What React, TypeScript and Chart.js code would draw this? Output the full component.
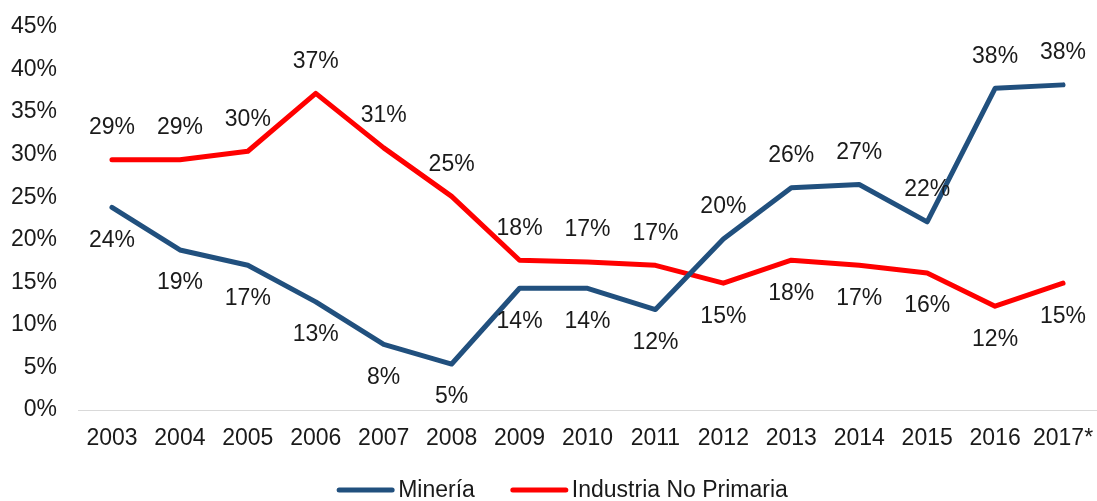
import React, { useEffect, useRef } from "react";
import { Chart, registerables } from "chart.js";

Chart.register(...registerables);

const categories = ["2003","2004","2005","2006","2007","2008","2009","2010","2011","2012","2013","2014","2015","2016","2017*"];
const mineria = [23.8, 18.8, 17.0, 12.7, 7.7, 5.4, 14.3, 14.3, 11.8, 20.1, 26.1, 26.5, 22.1, 37.8, 38.2];
const industria = [29.4, 29.4, 30.4, 37.2, 30.8, 25.1, 17.6, 17.4, 17.0, 14.9, 17.6, 17.0, 16.1, 12.2, 14.9];
const seriesNames = ["Minería", "Industria No Primaria"];
const seriesColors = ["#21507E", "#FF0000"];

const FONT = "Liberation Sans, Arial, sans-serif";
const FS = 23;

const labelPlugin = {
  id: "pointLabels",
  afterDatasetsDraw(chart: any) {
    const ctx = chart.ctx;
    ctx.save();
    ctx.font = `${FS}px ${FONT}`;
    ctx.fillStyle = "#1a1a1a";
    ctx.textAlign = "center";
    ctx.textBaseline = "middle";
    const ds = chart.data.datasets;
    ds.forEach((d: any, di: number) => {
      const meta = chart.getDatasetMeta(di);
      const other = ds[1 - di].data;
      meta.data.forEach((pt: any, i: number) => {
        const v = d.data[i];
        const above = v >= other[i];
        const y = above ? pt.y - 32 : pt.y + 33;
        ctx.fillText(Math.round(v) + "%", pt.x, y);
      });
    });
    ctx.restore();
  },
};

const legendPlugin = {
  id: "customLegend",
  afterDraw(chart: any) {
    const ctx = chart.ctx;
    ctx.save();
    ctx.font = `${FS}px ${FONT}`;
    const lineW = 57;
    const gap = 4;
    const itemGap = 36;
    const widths = seriesNames.map((n) => lineW + gap + ctx.measureText(n).width);
    const total = widths.reduce((a, b) => a + b, 0) + itemGap * (seriesNames.length - 1);
    let x = chart.width / 2 + 14 - total / 2;
    const y = 490;
    seriesNames.forEach((n, i) => {
      ctx.strokeStyle = seriesColors[i];
      ctx.lineWidth = 5;
      ctx.lineCap = "round";
      ctx.beginPath();
      ctx.moveTo(x + 2, y);
      ctx.lineTo(x + lineW - 2, y);
      ctx.stroke();
      ctx.fillStyle = "#1a1a1a";
      ctx.textAlign = "left";
      ctx.textBaseline = "middle";
      ctx.fillText(n, x + lineW + gap, y + 1);
      x += widths[i] + itemGap;
    });
    ctx.restore();
  },
};

export default function App() {
  const ref = useRef<HTMLCanvasElement | null>(null);
  useEffect(() => {
    document.body.style.margin = "0";
    const chart = new Chart(ref.current as HTMLCanvasElement, {
      type: "line",
      data: {
        labels: categories,
        datasets: [
          {
            label: seriesNames[0],
            data: mineria,
            borderColor: seriesColors[0],
            backgroundColor: seriesColors[0],
            borderWidth: 5,
            pointRadius: 0,
            tension: 0,
            borderCapStyle: "round",
            borderJoinStyle: "round",
          },
          {
            label: seriesNames[1],
            data: industria,
            borderColor: seriesColors[1],
            backgroundColor: seriesColors[1],
            borderWidth: 5,
            pointRadius: 0,
            tension: 0,
            borderCapStyle: "round",
            borderJoinStyle: "round",
          },
        ],
      },
      options: {
        responsive: false,
        animation: false,
        layout: { padding: { top: 27, right: 0, bottom: 46, left: 0 } },
        plugins: {
          legend: { display: false },
          tooltip: { enabled: false },
        },
        scales: {
          x: {
            offset: true,
            grid: { display: false, drawTicks: false },
            border: { display: true, color: "#d9d9d9", width: 1 },
            ticks: {
              color: "#1a1a1a",
              font: { family: FONT, size: FS },
              padding: 15,
              maxRotation: 0,
              autoSkip: false,
            },
            afterFit: (s: any) => {
              s.height = 45;
              s.paddingLeft = 0;
              s.paddingRight = 0;
            },
          },
          y: {
            min: 0,
            max: 45,
            grid: { display: false, drawTicks: false },
            border: { display: false },
            ticks: {
              stepSize: 5,
              color: "#1a1a1a",
              font: { family: FONT, size: FS },
              padding: 21,
              callback: (v: any) => v + "%",
            },
            afterFit: (s: any) => {
              s.width = 78;
              s.paddingTop = 0;
              s.paddingBottom = 0;
            },
          },
        },
      },
      plugins: [labelPlugin, legendPlugin],
    });
    return () => chart.destroy();
  }, []);
  return <canvas ref={ref} width={1097} height={501} style={{ display: "block" }} />;
}
